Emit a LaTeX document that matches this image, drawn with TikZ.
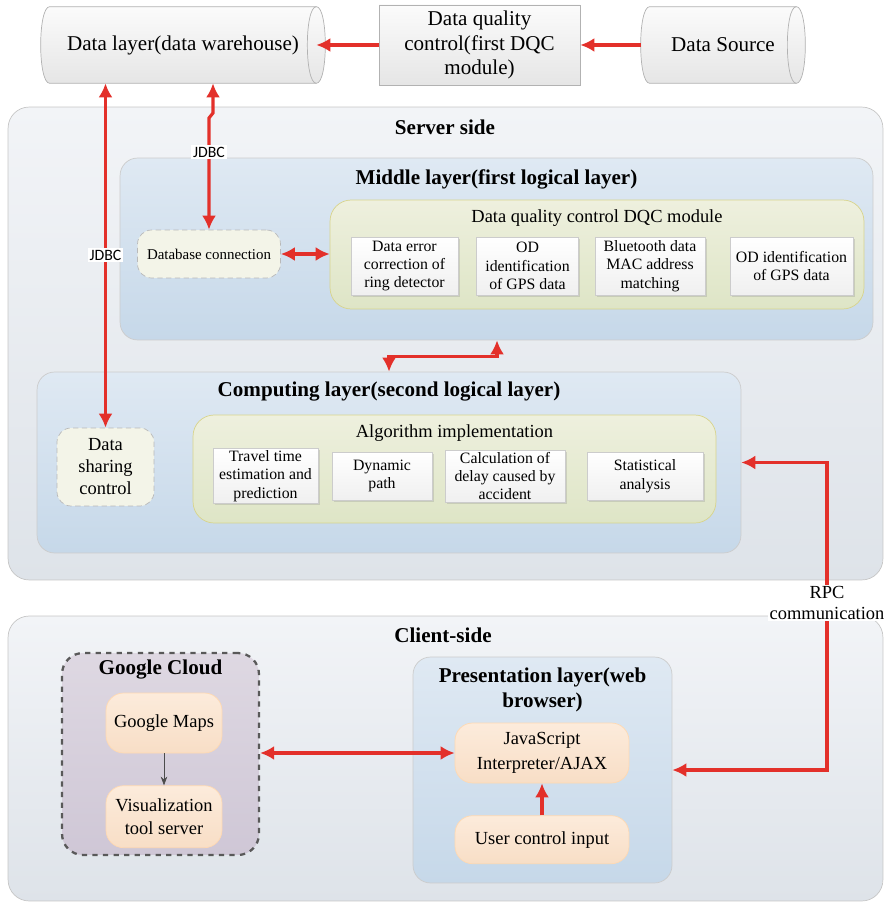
\documentclass[tikz,border=0pt]{standalone}
\usepackage{fontspec}
\setmainfont{Liberation Serif}
\newfontfamily\jdbcfont{Carlito}
\usetikzlibrary{positioning,calc,arrows.meta,shadows}

\definecolor{linkred}{HTML}{E3302A}
\definecolor{sidefill}{HTML}{F2F4F7}
\definecolor{sidefillb}{HTML}{DEE3E9}
\definecolor{layerfill}{HTML}{DFE9F3}
\definecolor{layerfillb}{HTML}{C6D8E9}
\definecolor{modfill}{HTML}{EEF0DE}
\definecolor{modfillb}{HTML}{DEE5C6}
\definecolor{orangefill}{HTML}{FCEBDB}
\definecolor{orangefillb}{HTML}{F8DEC6}
\definecolor{cloudfill}{HTML}{DED8E2}
\definecolor{cloudfillb}{HTML}{CFC7D6}

\tikzset{
  side/.style={draw=gray!45, rounded corners=12pt, top color=sidefill, bottom color=sidefillb},
  layer/.style={draw=gray!40, rounded corners=10pt, top color=layerfill, bottom color=layerfillb},
  module/.style={draw=olive!35, rounded corners=12pt, top color=modfill, bottom color=modfillb},
  item/.style={draw=gray!40, top color=white, bottom color=gray!12, align=center,
    font=\fontsize{9}{10.5}\selectfont, inner sep=1pt,
    drop shadow={shadow xshift=1pt, shadow yshift=-1pt, opacity=0.25}},
  conn/.style={draw=gray!55, densely dashed, rounded corners=8pt, fill=modfill!70, align=center},
  drum/.style={draw=gray!60, top color=gray!3, bottom color=gray!20},
  bignote/.style={font=\fontsize{12}{14}\selectfont, align=center},
  warm/.style={draw=orange!30, rounded corners=10pt, top color=orangefill, bottom color=orangefillb,
    align=center, font=\fontsize{10.5}{13}\selectfont},
  title/.style={font=\bfseries\fontsize{12}{14}\selectfont, align=center},
  sub/.style={font=\fontsize{10.5}{12.5}\selectfont, align=center},
  tag/.style={fill=white, inner sep=1pt, font=\jdbcfont\fontsize{9}{10}\selectfont},
  link/.style={draw=linkred, line width=1.8pt, {Latex[length=8pt,width=8pt]}-{Latex[length=8pt,width=8pt]}},
  linkto/.style={draw=linkred, line width=1.8pt, -{Latex[length=8pt,width=8pt]}},
}

\begin{document}
\begin{tikzpicture}[x=0.02cm, y=-0.02cm]
\useasboundingbox (0,0) rectangle (889,905);

% top row: warehouse, first DQC, source
\node[minimum width=5.32cm, minimum height=1.52cm] (dl) at (183,45) {};
\draw[drum] (dl.north west) -- (dl.north east) .. controls +(12,0) and +(12,0) .. (dl.south east)
  -- (dl.south west) .. controls +(-12,0) and +(-12,0) .. cycle;
\draw[gray!60] (dl.north east) .. controls +(-12,0) and +(-12,0) .. (dl.south east);
\node[bignote] (dltext) at (dl) {Data layer(data warehouse)};

\node[drum, bignote, minimum width=4.02cm, minimum height=1.52cm] (dqc) at (479.5,45) {Data quality\\control(first DQC\\module)};

\node[minimum width=2.92cm, minimum height=1.52cm] (src) at (723,45) {};
\draw[drum] (src.north west) -- (src.north east) .. controls +(12,0) and +(12,0) .. (src.south east)
  -- (src.south west) .. controls +(-12,0) and +(-12,0) .. cycle;
\draw[gray!60] (src.north east) .. controls +(-12,0) and +(-12,0) .. (src.south east);
\node[bignote] (srctext) at (src) {Data Source};

% server side
\node[side, minimum width=17.5cm, minimum height=9.46cm] (server) at (445.5,343.5) {};
\node[title] (servert) at (445,127) {Server side};

% middle layer
\node[layer, minimum width=15.06cm, minimum height=3.64cm] (middle) at (496.5,249) {};
\node[title] (middlet) at (496.5,179) {Middle layer(first logical layer)};
\node[module, minimum width=10.68cm, minimum height=2.18cm] (dqcmod) at (597,254.5) {};
\node[sub] (dqcmodt) at (597,218) {Data quality control DQC module};
\node[item, minimum width=2.14cm, minimum height=1.16cm] (e1) at (404.5,266) {Data error\\correction of\\ring detector};
\node[item, minimum width=2.04cm, minimum height=1.16cm] (e2) at (527.5,266) {OD\\identification\\of GPS data};
\node[item, minimum width=2.2cm, minimum height=1.16cm] (e3) at (650,266) {Bluetooth data\\MAC address\\matching};
\node[item, minimum width=2.46cm, minimum height=1.16cm] (e4) at (791.5,266) {OD identification\\of GPS data};
\node[conn, minimum width=2.86cm, minimum height=0.96cm, font=\fontsize{8.5}{10}\selectfont] (dbconn) at (209,254) {Database connection};

% computing layer
\node[layer, minimum width=14.08cm, minimum height=3.62cm] (compute) at (389,462.5) {};
\node[title] (computet) at (389,392) {Computing layer(second logical layer)};
\node[module, minimum width=10.46cm, minimum height=2.16cm] (algo) at (454.5,469) {};
\node[sub] (algot) at (454.5,433) {Algorithm implementation};
\node[item, minimum width=2.1cm, minimum height=0.96cm] (a1) at (265.5,476) {Travel time\\estimation and\\prediction};
\node[item, minimum width=2cm, minimum height=0.96cm] (a2) at (382,476) {Dynamic\\path};
\node[item, minimum width=2.4cm, minimum height=0.96cm] (a3) at (505,476) {Calculation of\\delay caused by\\accident};
\node[item, minimum width=2.32cm, minimum height=0.96cm] (a4) at (645,476) {Statistical\\analysis};
\node[conn, minimum width=1.94cm, minimum height=1.56cm, font=\fontsize{10.5}{12.5}\selectfont] (share) at (105.5,467) {Data\\sharing\\control};

% client side
\node[side, minimum width=17.5cm, minimum height=5.7cm] (client) at (445.5,758.5) {};
\node[title] (clientt) at (443,635) {Client-side};

\node[draw=black!65, dashed, line width=1.3pt, rounded corners=12pt, top color=cloudfill, bottom color=cloudfillb,
  minimum width=3.94cm, minimum height=4.04cm] (cloud) at (160.5,754) {};
\node[title] (cloudt) at (160.5,670) {Google Cloud};
\node[warm, minimum width=2.32cm, minimum height=1.2cm] (gmaps) at (164,723) {Google Maps};
\node[warm, minimum width=2.32cm, minimum height=1.24cm, below=0.64cm of gmaps] (vis) {Visualization\\tool server};

\node[layer, minimum width=5.18cm, minimum height=4.52cm] (pres) at (542.5,770) {};
\node[title] (prest) at (542.5,690) {Presentation layer(web\\browser)};
\node[warm, minimum width=3.48cm, minimum height=1.2cm, font=\fontsize{10.5}{14}\selectfont] (js) at (542,753) {JavaScript\\Interpreter/AJAX};
\node[warm, minimum width=3.48cm, minimum height=0.96cm, below=0.64cm of js] (user) {User control input};

% connectors
\coordinate (dlport) at ($(dl.south)+(30,0)$);
\coordinate (srcport) at ($(src.west)+(-9,0)$);
\coordinate (midport) at ($(middle.south)+(0.5,0)$);
\coordinate (rpcA) at (827,600);
\coordinate (presport) at (pres.east |- 0,770);

\draw[linkto] (dqc) -- (dl);
\draw[linkto] (srcport) -- (dqc);
\draw[link] (dbconn.north) -- (dbconn.north |- 0,118) -- (dlport |- 0,113) -- (dlport);
\draw[link] (share.north) -- (share.north |- dl.south);
\draw[link] (dbconn) -- (dqcmod.west |- dbconn.east);
\draw[link] (compute.north) -- ++(0,-15) -| (midport);
\draw[link] (compute.east) -| (rpcA) |- (presport);
\draw[link] (cloud.east |- js.west) -- (js.west);
\draw[linkto] (user) -- (js);
\draw[-{Stealth[length=5pt]}, gray!60!black, thin] (gmaps) -- (vis);

% labels on the links
\node[tag] (jdbcA) at (dbconn.north |- 0,152) {JDBC};
\node[tag] (jdbcB) at (share.north |- 0,255) {JDBC};
\node[fill=white, inner sep=1pt, font=\fontsize{10.5}{11.5}\selectfont, align=center] (rpc) at (827,603) {RPC\\communication};
\end{tikzpicture}
\end{document}
